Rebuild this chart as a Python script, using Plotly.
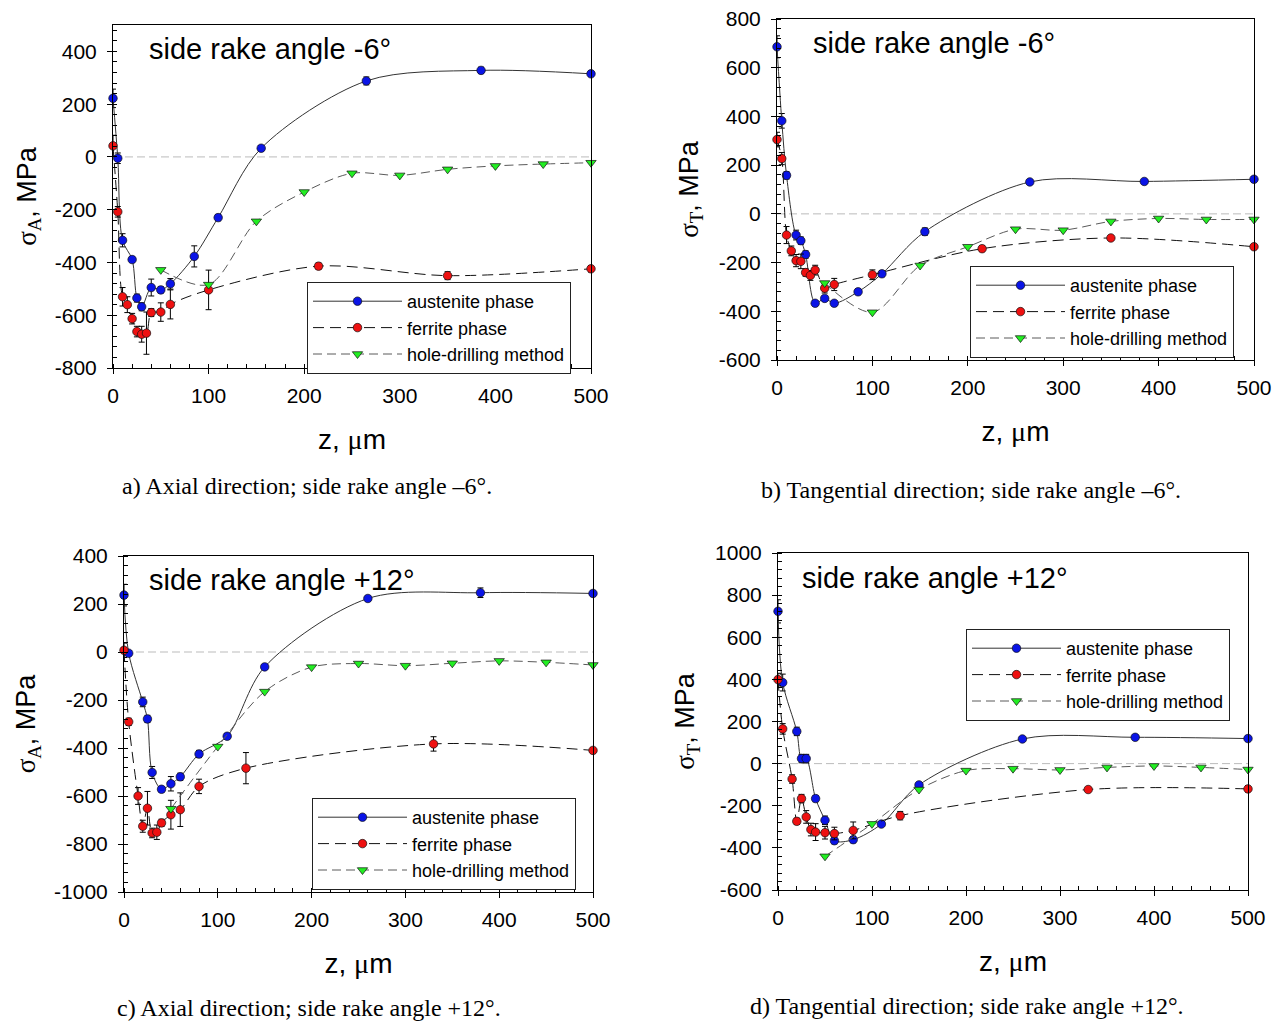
import plotly.graph_objects as go

W, H = 1281, 1021
OFF = 8  # page body margin offset compensation

# ---------------- data ----------------
# a) axial, -6 deg
z_a_aus = [0, 5, 10, 20, 25, 30, 40, 50, 60, 85, 110, 155, 265, 385, 500]
s_a_aus = [222, -5, -316, -389, -535, -568, -495, -504, -481, -377, -230, 33, 288, 328, 315]
e_a_aus = [35, 20, 25, 10, 15, 15, 32, 12, 20, 40, 12, 10, 15, 12, 10]
z_a_fer = [0, 5, 10, 15, 20, 25, 30, 35, 40, 50, 60, 100, 215, 350, 500]
s_a_fer = [42, -208, -530, -560, -613, -662, -672, -668, -590, -588, -559, -504, -414, -450, -424]
e_a_fer = [40, 20, 35, 30, 20, 20, 30, 80, 15, 35, 55, 75, 12, 15, 12]
z_a_hd = [50, 100, 150, 200, 250, 300, 350, 400, 450, 500]
s_a_hd = [-428, -484, -244, -133, -62, -70, -47, -34, -27, -22]

# b) tangential, -6 deg
z_b_aus = [0, 5, 10, 20, 25, 30, 40, 50, 60, 85, 110, 155, 265, 385, 500]
s_b_aus = [686, 382, 158, -87, -110, -167, -367, -347, -367, -320, -246, -73, 131, 133, 142]
e_b_aus = [45, 30, 15, 20, 15, 15, 10, 10, 10, 12, 12, 15, 10, 8, 10]
z_b_fer = [0, 5, 10, 15, 20, 25, 30, 35, 40, 50, 60, 100, 215, 350, 500]
s_b_fer = [305, 227, -87, -152, -192, -195, -241, -253, -231, -305, -290, -250, -143, -99, -135]
e_b_fer = [30, 25, 35, 20, 25, 30, 15, 20, 20, 20, 25, 20, 12, 10, 10]
z_b_hd = [50, 100, 150, 200, 250, 300, 350, 400, 450, 500]
s_b_hd = [-284, -404, -212, -135, -63, -67, -31, -19, -23, -23]

# c) axial, +12 deg
z_c_aus = [0, 5, 20, 25, 30, 40, 50, 60, 80, 110, 150, 260, 380, 500]
s_c_aus = [237, -5, -208, -279, -502, -572, -549, -520, -425, -351, -62, 223, 247, 244]
e_c_aus = [45, 10, 20, 15, 25, 12, 30, 15, 15, 12, 10, 10, 20, 10]
z_c_fer = [0, 5, 15, 20, 25, 30, 35, 40, 50, 60, 80, 130, 330, 500]
s_c_fer = [7, -291, -600, -726, -651, -754, -751, -712, -678, -657, -560, -484, -383, -410]
e_c_fer = [30, 15, 35, 25, 70, 20, 30, 15, 60, 70, 30, 65, 30, 10]
z_c_hd = [50, 100, 150, 200, 250, 300, 350, 400, 450, 500]
s_c_hd = [-653, -394, -165, -63, -48, -57, -47, -37, -43, -54]

# d) tangential, +12 deg
z_d_aus = [0, 5, 20, 25, 30, 40, 50, 60, 80, 110, 150, 260, 380, 500]
s_d_aus = [723, 385, 153, 24, 24, -166, -269, -366, -361, -287, -101, 117, 125, 119]
e_d_aus = [55, 40, 20, 20, 20, 15, 20, 15, 15, 10, 10, 10, 10, 12]
z_d_fer = [0, 5, 15, 20, 25, 30, 35, 40, 50, 60, 80, 130, 330, 500]
s_d_fer = [399, 165, -73, -274, -166, -253, -313, -325, -328, -332, -317, -247, -123, -120]
e_d_fer = [30, 25, 20, 15, 20, 30, 30, 40, 30, 30, 40, 20, 10, 15]
z_d_hd = [50, 100, 150, 200, 250, 300, 350, 400, 450, 500]
s_d_hd = [-440, -286, -123, -33, -24, -30, -18, -11, -18, -28]

# tick labels
x_ticks = [0, 100, 200, 300, 400, 500]
y_ticks_a = [-800, -600, -400, -200, 0, 200, 400]
y_ticks_b = [-600, -400, -200, 0, 200, 400, 600, 800]
y_ticks_c = [-1000, -800, -600, -400, -200, 0, 200, 400]
y_ticks_d = [-600, -400, -200, 0, 200, 400, 600, 800, 1000]

series_names = ["austenite phase", "ferrite phase", "hole-drilling method"]
panel_titles = ["side rake angle -6°", "side rake angle -6°", "side rake angle +12°", "side rake angle +12°"]
captions = ["a) Axial direction; side rake angle \u20136°.",
            "b) Tangential direction; side rake angle \u20136°.",
            "c) Axial direction; side rake angle +12°.",
            "d) Tangential direction; side rake angle +12°."]
y_ranges = [[-800, 500], [-600, 800], [-1000, 400], [-600, 1000]]
y_ticks = [y_ticks_a, y_ticks_b, y_ticks_c, y_ticks_d]
y_subs = ["A", "T", "A", "T"]

panels = [
    (z_a_aus, s_a_aus, e_a_aus, z_a_fer, s_a_fer, e_a_fer, z_a_hd, s_a_hd),
    (z_b_aus, s_b_aus, e_b_aus, z_b_fer, s_b_fer, e_b_fer, z_b_hd, s_b_hd),
    (z_c_aus, s_c_aus, e_c_aus, z_c_fer, s_c_fer, e_c_fer, z_c_hd, s_c_hd),
    (z_d_aus, s_d_aus, e_d_aus, z_d_fer, s_d_fer, e_d_fer, z_d_hd, s_d_hd),
]

# ---------------- layout geometry (pixels, screen coords) ----------------
frames = [(113, 591, 25, 368), (777, 1254, 19, 360), (124, 593, 556, 892), (778, 1248, 553, 890)]
legend_pos = [(307, 282), (970, 266), (312, 798), (966, 629)]
title_pos = [(147, 49), (811, 43), (147, 580), (800, 578)]
caption_pos = [(307, 486), (971, 490), (309, 1008), (967, 1006)]
y_standoffs = [10, 12, 10, 12]

SANS = "Liberation Sans, Arial, sans-serif"
SERIF = "Liberation Serif, Times New Roman, serif"

def px_x(v):
    return (v - OFF) / W

def px_y(v):
    return 1 - (v - OFF) / H

fig = go.Figure()
layout = dict(
    width=W, height=H, autosize=False,
    margin=dict(l=0, r=0, t=0, b=0, pad=0),
    paper_bgcolor="white", plot_bgcolor="white",
    font=dict(family=SANS, size=20, color="black"),
    annotations=[], shapes=[],
)

for i, (za, sa, ea, zf, sf, ef, zh, sh) in enumerate(panels):
    k = "" if i == 0 else str(i + 1)
    xa, ya = "x" + k, "y" + k
    leg = "legend" + k
    common = dict(xaxis=xa, yaxis=ya, legend=leg, cliponaxis=False)
    eb = dict(type="data", visible=True, color="black", thickness=1, width=3)
    fig.add_trace(go.Scatter(
        x=za, y=sa, name=series_names[0], mode="lines+markers",
        line=dict(color="#333333", width=1, shape="spline", smoothing=0.9),
        marker=dict(symbol="circle", size=8.5, color="#0a14e6", line=dict(color="#111", width=0.7)),
        error_y=dict(array=ea, **eb), **common))
    fig.add_trace(go.Scatter(
        x=zf, y=sf, name=series_names[1], mode="lines+markers",
        line=dict(color="#111111", width=1, dash="11px,6px", shape="spline", smoothing=0.9),
        marker=dict(symbol="circle", size=8.5, color="#ee1111", line=dict(color="#111", width=0.7)),
        error_y=dict(array=ef, **eb), **common))
    fig.add_trace(go.Scatter(
        x=zh, y=sh, name=series_names[2], mode="lines+markers",
        line=dict(color="#5a5a5a", width=1, dash="9px,5px", shape="spline", smoothing=0.9),
        marker=dict(symbol="triangle-down", size=9, color="#22ee22", line=dict(color="#111", width=0.7)),
        **common))

    l, r, t, b = frames[i]
    axis_common = dict(
        showline=True, linecolor="black", linewidth=1, mirror=True,
        ticks="outside", ticklen=5, tickcolor="black", tickwidth=1,
        showgrid=False, zeroline=False, automargin=False,
        ticklabeloverflow="allow",
        tickfont=dict(family=SANS, size=21, color="black"),
    )
    layout["xaxis" + k] = dict(
        domain=[px_x(l), px_x(r)], anchor=ya, range=[0, 500],
        tickmode="array", tickvals=x_ticks, ticktext=[str(v) for v in x_ticks],
        ticklabelstandoff=4,
        minor=dict(dtick=20, ticks="inside", ticklen=4, tickcolor="black", showgrid=False),
        title=dict(text="z, <span style='font-family:Liberation Serif'>\u03bc</span>m",
                   font=dict(family=SANS, size=28), standoff=23),
        **axis_common)
    layout["yaxis" + k] = dict(
        domain=[px_y(b), px_y(t)], anchor=xa, range=y_ranges[i],
        tickmode="array", tickvals=y_ticks[i], ticktext=[str(v) for v in y_ticks[i]],
        ticklabelstandoff=6,
        minor=dict(dtick=40, ticks="inside", ticklen=4, tickcolor="black", showgrid=False),
        title=dict(text="<span style='font-family:Liberation Serif'>\u03c3<sub>" + y_subs[i] + "</sub></span>, MPa",
                   font=dict(family=SANS, size=27), standoff=y_standoffs[i]),
        **axis_common)
    lx, ly = legend_pos[i]
    layout[leg] = dict(
        x=px_x(lx), y=px_y(ly), xanchor="left", yanchor="top",
        xref="paper", yref="paper",
        bgcolor="white", bordercolor="#222", borderwidth=1,
        font=dict(family=SANS, size=18, color="black"),
        itemwidth=89, tracegroupgap=0,
    )
    layout["shapes"].append(dict(
        type="line", xref=xa + " domain", yref=ya, x0=0, x1=1, y0=0, y1=0,
        line=dict(color="#bbbbbb", width=1, dash="8px,4px"), layer="below"))
    tx, ty = title_pos[i]
    layout["annotations"].append(dict(
        text=panel_titles[i], x=px_x(tx), y=px_y(ty), xref="paper", yref="paper",
        xanchor="left", yanchor="middle", showarrow=False,
        font=dict(family=SANS, size=29, color="black")))
    cx, cy = caption_pos[i]
    layout["annotations"].append(dict(
        text=captions[i], x=px_x(cx), y=px_y(cy), xref="paper", yref="paper",
        xanchor="center", yanchor="middle", showarrow=False,
        font=dict(family=SERIF, size=24, color="black")))

fig.update_layout(**layout)
fig.write_html("out.html")
